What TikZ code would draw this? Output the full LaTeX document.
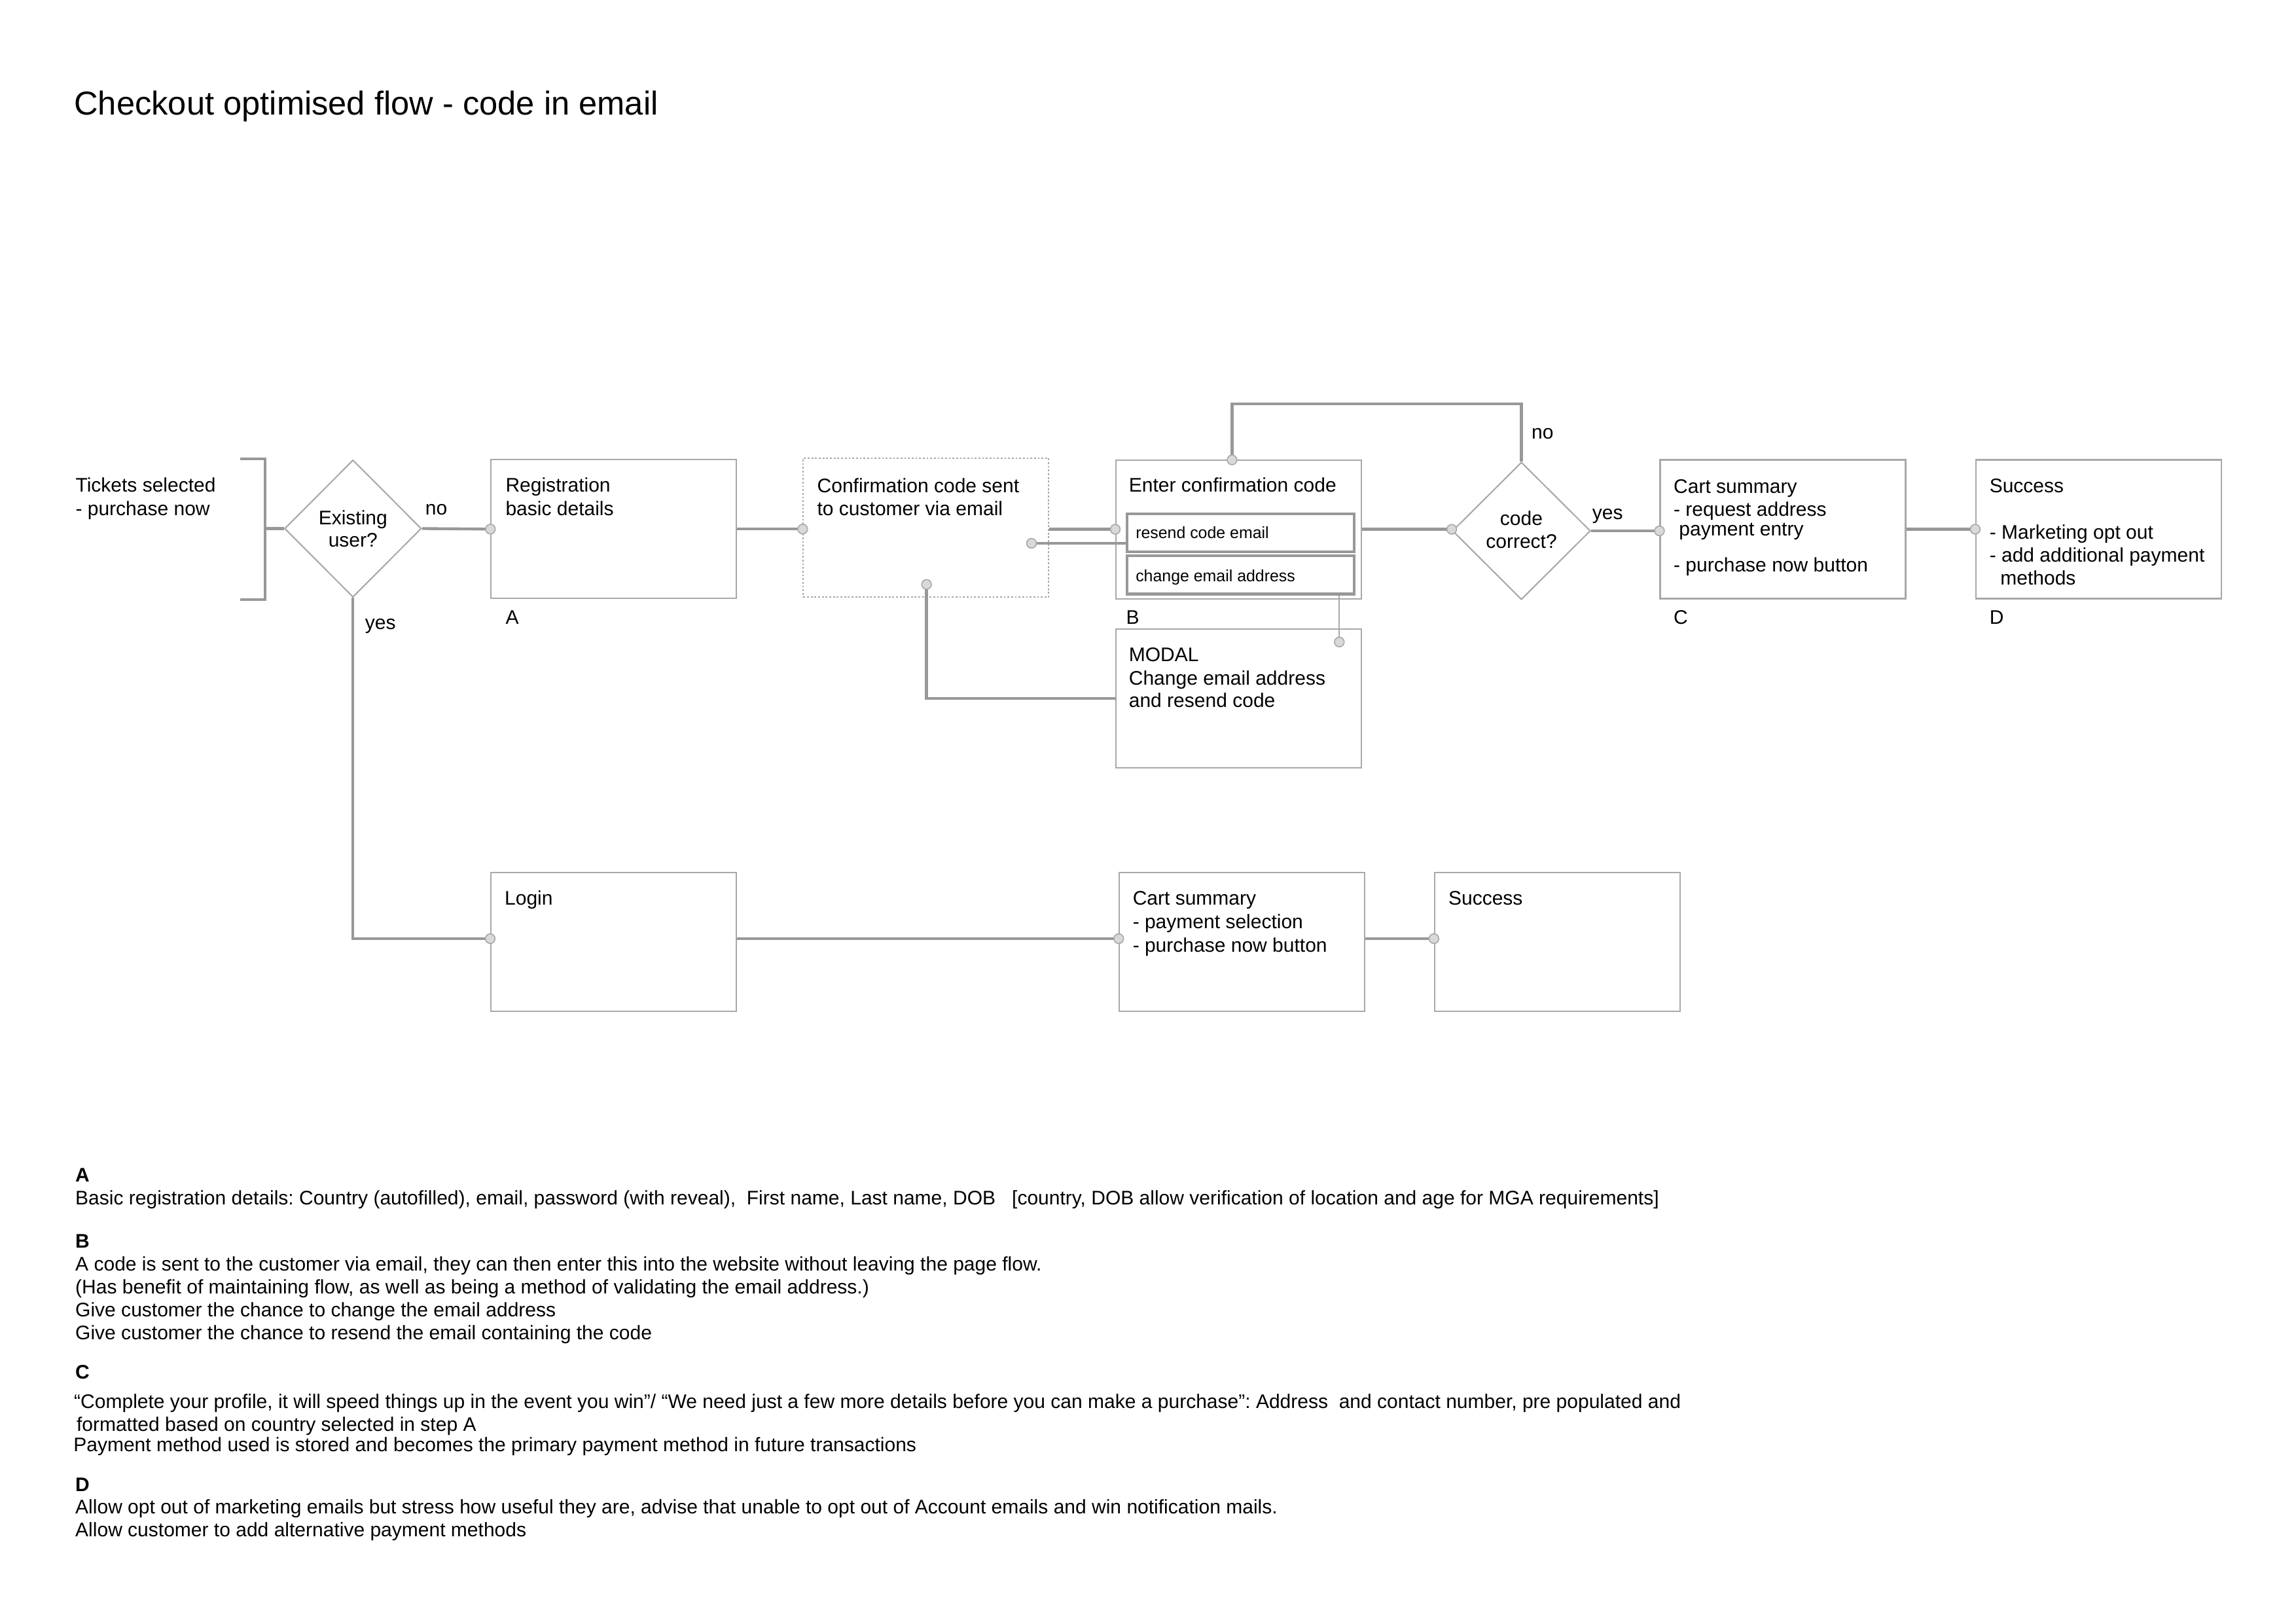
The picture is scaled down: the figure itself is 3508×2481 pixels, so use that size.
\documentclass[tikz,border=0pt]{standalone}
\usepackage{fontspec}
\setmainfont{Liberation Sans}
\usetikzlibrary{shapes.geometric}
\frenchspacing
\definecolor{linegray}{RGB}{152,152,152}
\definecolor{boxgray}{RGB}{168,168,168}
\definecolor{dotfill}{RGB}{217,217,217}
\definecolor{dotline}{RGB}{170,170,170}
\begin{document}
\begin{tikzpicture}[x=0.0846667mm,y=-0.0846667mm,
  box/.style={rectangle,draw=boxgray,line width=0.5pt,minimum width=31.75mm,minimum height=17.95mm,inner sep=0pt},
  dotbox/.style={dash pattern=on 0.24mm off 0.24mm},
  subbox/.style={rectangle,draw=linegray,line width=1pt,minimum width=29.40mm,minimum height=4.92mm,inner sep=0pt},
  dia/.style={diamond,draw=boxgray,line width=0.5pt,inner sep=0pt},
  conn/.style={draw=linegray,line width=1.05pt},
  thinconn/.style={draw=boxgray,line width=0.4pt},
  dotn/.style={circle,fill=dotfill,draw=dotline,line width=0.4pt,minimum size=1.25mm,inner sep=0pt},
  txt/.style={font=\fontsize{7.23}{8.6}\selectfont,inner sep=0pt,anchor=base west},
  txtc/.style={font=\fontsize{7.23}{8.6}\selectfont,inner sep=0pt,anchor=base},
  small/.style={font=\fontsize{6.0}{7}\selectfont,inner sep=0pt,anchor=base west},
  ttl/.style={font=\fontsize{12.2}{14}\selectfont,inner sep=0pt,anchor=base west}]
\useasboundingbox (0,0) rectangle (3508,2481);
\fill[white] (0,0) rectangle (3508,2481);

% title
\node[ttl] (title) at (112.6,175.7) {Checkout optimised flow - code in email};

% boxes
\node[box] (reg) at (937.8,808.3) {};
\node[box,dotbox] (conf) at (1414.9,806.1) {};
\node[box] (enter) at (1892.5,808.6) {};
\node[subbox] (resend) at (1895.35,813.75) {};
\node[subbox] (change) at (1895.35,878.4) {};
\node[box] (modal) at (1892.5,1067.3) {};
\node[box] (cart) at (2724,808.5) {};
\node[box] (succ) at (3206.4,808.5) {};
\node[box] (login) at (937.5,1439.3) {};
\node[box] (cart2) at (1897.75,1439.3) {};
\node[box] (succ2) at (2379.4,1439.3) {};
\node[dia,minimum width=17.70mm,minimum height=17.75mm] (exist) at (539.3,807.5) {};
\node[dia,minimum width=17.86mm,minimum height=17.78mm] (code) at (2324.5,811) {};

% bracket
\draw[conn] (366.5,700.7) -- (404.7,700.7) -- (404.7,916) -- (366.5,916);
\coordinate (brk) at (404.7,807.5);

% connection points on the lower row
\coordinate (lw) at ([yshift=0.45mm]login.west);
\coordinate (le) at ([yshift=0.45mm]login.east);
\coordinate (cw) at ([yshift=0.45mm]cart2.west);
\coordinate (ce) at ([yshift=0.45mm]cart2.east);
\coordinate (sw) at ([yshift=0.45mm]succ2.west);

% connectors
\draw[conn] (brk) -- (exist.west);
\draw[conn] (exist.east) -- (reg.west);
\draw[conn] (reg.east) -- (reg.east -| conf.west);
\draw[conn] (conf.east |- enter.west) -- (enter.west);
\coordinate (cr) at (1576,830);
\draw[conn] (cr) -- (cr -| resend.west);
\coordinate (cb) at (1415.6,892.8);
\draw[conn] (cb) |- (modal.west);
\coordinate (cm) at (2046.3,980.8);
\draw[thinconn] (cm |- change.south) -- (cm);
\coordinate (et) at (1882.4,702.6);
\draw[conn] (et) -- ++(0,-85.3) -| (code.north);
\draw[conn] (enter.east) -- (enter.east -| code.west);
\draw[conn] (code.east) -- (code.east -| cart.west);
\draw[conn] (cart.east) -- (succ.west);
\draw[conn] (exist.south) |- (lw);
\draw[conn] (le) -- (cw);
\draw[conn] (ce) -- (sw);

% dots
\node[dotn] (d1) at (reg.west) {};
\node[dotn] (d2) at (reg.east -| conf.west) {};
\node[dotn] (d3) at (enter.west) {};
\node[dotn] (d4) at (cr) {};
\node[dotn] (d5) at (cb) {};
\node[dotn] (d6) at (cm) {};
\node[dotn] (d7) at (et) {};
\node[dotn] (d8) at (enter.east -| code.west) {};
\node[dotn] (d9) at (code.east -| cart.west) {};
\node[dotn] (d10) at (succ.west) {};
\node[dotn] (d11) at (lw) {};
\node[dotn] (d12) at (cw) {};
\node[dotn] (d13) at (sw) {};

% diagram texts
\node[txt] (t1) at (114.7,752) {Tickets selected};
\node[txt] (t2) at (114.7,788) {- purchase now};
\node[txtc] (t3) at (539.3,801.7) {Existing};
\node[txtc] (t4) at (539.3,836) {user?};
\node[txt] (t5) at (649,787) {no};
\node[txt] (t6) at (557,961.7) {yes};
\node[txt] (t7) at (771.7,752) {Registration};
\node[txt] (t8) at (771.7,788) {basic details};
\node[txt] (t9) at (771.7,954) {A};
\node[txt] (t10) at (1247.8,752.4) {Confirmation code sent};
\node[txt] (t11) at (1247.8,788) {to customer via email};
\node[txt] (t12) at (1724,752) {Enter confirmation code};
\node[small] (t13) at (1734.4,823) {resend code email};
\node[small] (t14) at (1734.4,888.4) {change email address};
\node[txt] (t15) at (1719.8,953.3) {B};
\node[txt] (t16) at (1724,1011) {MODAL};
\node[txt] (t17) at (1724,1046.3) {Change email address};
\node[txt] (t18) at (1724,1080.7) {and resend code};
\node[txtc] (t19) at (2324.5,803) {code};
\node[txtc] (t20) at (2324.5,838) {correct?};
\node[txt] (t21) at (2432,794) {yes};
\node[txt] (t22) at (2339.3,671) {no};
\node[txt] (t23) at (2556.3,753.3) {Cart summary};
\node[txt] (t24) at (2556.3,788.3) {- request address};
\node[txt] (t25) at (2564.6,818.3) {payment entry};
\node[txt] (t26) at (2556.3,873.3) {- purchase now button};
\node[txt] (t27) at (2556.3,953.3) {C};
\node[txt] (t28) at (3038.9,752.7) {Success};
\node[txt] (t29) at (3038.9,823.3) {- Marketing opt out};
\node[txt] (t30) at (3038.9,858.3) {- add additional payment};
\node[txt] (t31) at (3055.5,893.3) {methods};
\node[txt] (t32) at (3038.9,953.3) {D};
\node[txt] (t33) at (770.3,1382.7) {Login};
\node[txt] (t34) at (1729.9,1382.7) {Cart summary};
\node[txt] (t35) at (1729.9,1418.3) {- payment selection};
\node[txt] (t36) at (1729.9,1454.3) {- purchase now button};
\node[txt] (t37) at (2212.2,1382.7) {Success};

% notes
\node[txt,font=\fontsize{7.23}{8.6}\selectfont\bfseries] (n1) at (114.4,1805) {A};
\node[txt] (n2) at (114.4,1840.5) {Basic registration details: Country (autofilled), email, password (with reveal),\ \ First name, Last name, DOB\ \ \ [country, DOB allow verification of location and age for MGA requirements]};
\node[txt,font=\fontsize{7.23}{8.6}\selectfont\bfseries] (n3) at (114.4,1906) {B};
\node[txt] (n4) at (114.4,1941) {A code is sent to the customer via email, they can then enter this into the website without leaving the page flow.};
\node[txt] (n5) at (114.4,1976) {(Has benefit of maintaining flow, as well as being a method of validating the email address.)};
\node[txt] (n6) at (114.4,2011.5) {Give customer the chance to change the email address};
\node[txt] (n7) at (114.4,2046) {Give customer the chance to resend the email containing the code};
\node[txt,font=\fontsize{7.23}{8.6}\selectfont\bfseries] (n8) at (114.4,2106.7) {C};
\node[txt] (n9) at (112.4,2151) {“Complete your profile, it will speed things up in the event you win”/ “We need just a few more details before you can make a purchase”: Address\ \ and contact number, pre populated and};
\node[txt] (n10) at (116.2,2186) {formatted based on country selected in step A};
\node[txt] (n11) at (111.5,2217.5) {Payment method used is stored and becomes the primary payment method in future transactions};
\node[txt,font=\fontsize{7.23}{8.6}\selectfont\bfseries] (n12) at (114.4,2278.3) {D};
\node[txt] (n13) at (114.4,2312) {Allow opt out of marketing emails but stress how useful they are, advise that unable to opt out of Account emails and win notification mails.};
\node[txt] (n14) at (114.4,2347.5) {Allow customer to add alternative payment methods};
\end{tikzpicture}
\end{document}
